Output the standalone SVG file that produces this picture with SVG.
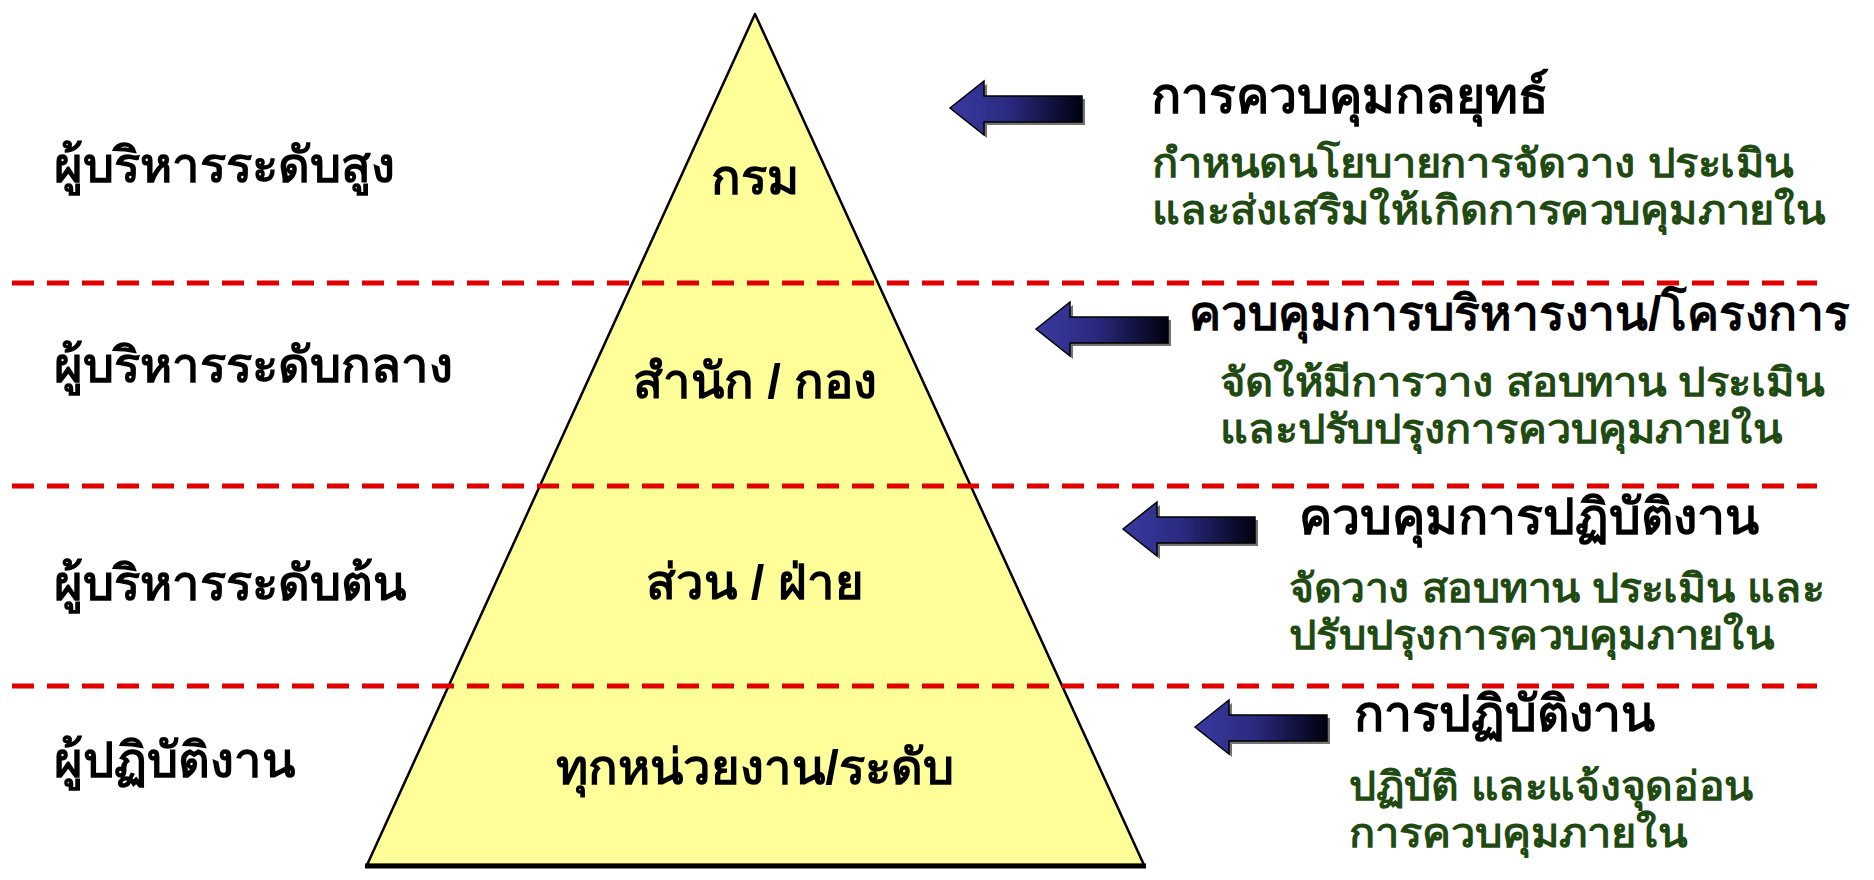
<svg xmlns="http://www.w3.org/2000/svg" width="1874" height="880" viewBox="0 0 1874 880">
<style>
text{font-family:"Liberation Sans","Noto Sans","DejaVu Sans",sans-serif;font-weight:bold}
.lv{font-size:49px;fill:#000}
.tl{font-size:49px;fill:#000;text-anchor:middle}
.hd{font-size:50px;fill:#000}
.ds{font-size:40px;fill:#1f4a12}
.dash{stroke:#e00000;stroke-width:5;stroke-dasharray:22 13;fill:none}
.arr{fill:url(#ag);stroke:#000;stroke-width:1.5}
.sh{fill:#000;opacity:0.55}
</style>
<defs>
<linearGradient id="ag" x1="0" y1="0" x2="1" y2="0">
<stop offset="0" stop-color="#3a3aa0"/>
<stop offset="0.45" stop-color="#2a2a80"/>
<stop offset="1" stop-color="#000010"/>
</linearGradient>
<path id="arrow" d="M0,0 L34,-27 L34,-12 L132,-12 L132,14 L34,14 L34,27 Z"/>
</defs>
<g id="pyramid">
<polygon points="755,14 1144,865 367,865" fill="#ffff99" stroke="#000" stroke-width="2.5" stroke-linejoin="round"/>
<line x1="365" y1="866" x2="1146" y2="866" stroke="#000" stroke-width="5"/>
</g>
<g id="dividers">
<line class="dash" x1="12" y1="283" x2="1817" y2="283"/>
<line class="dash" x1="12" y1="486" x2="1817" y2="486"/>
<line class="dash" x1="12" y1="686" x2="1817" y2="686"/>
</g>
<g id="level-top">
<text class="lv" x="54" y="182">ผู้บริหารระดับสูง</text>
<text class="tl" x="755" y="194">กรม</text>
</g>
<g id="level-middle">
<text class="lv" x="54" y="382">ผู้บริหารระดับกลาง</text>
<text class="tl" x="755" y="398">สำนัก / กอง</text>
</g>
<g id="level-lower">
<text class="lv" x="54" y="600">ผู้บริหารระดับต้น</text>
<text class="tl" x="755" y="599">ส่วน / ฝ่าย</text>
</g>
<g id="level-operator">
<text class="lv" x="54" y="777">ผู้ปฏิบัติงาน</text>
<text class="tl" x="755" y="784">ทุกหน่วยงาน/ระดับ</text>
</g>
<g id="connectors">
<use href="#arrow" class="sh" x="953" y="111"/>
<use href="#arrow" class="arr" x="950" y="108"/>
<use href="#arrow" class="sh" x="1039" y="332"/>
<use href="#arrow" class="arr" x="1036" y="329"/>
<use href="#arrow" class="sh" x="1126" y="532"/>
<use href="#arrow" class="arr" x="1123" y="529"/>
<use href="#arrow" class="sh" x="1198" y="730"/>
<use href="#arrow" class="arr" x="1195" y="727"/>
</g>
<g id="desc-strategic">
<text class="hd" x="1151" y="113">การควบคุมกลยุทธ์</text>
<text class="ds" x="1152" y="177" textLength="641" lengthAdjust="spacingAndGlyphs">กำหนดนโยบายการจัดวาง ประเมิน</text>
<text class="ds" x="1152" y="224" textLength="673" lengthAdjust="spacingAndGlyphs">และส่งเสริมให้เกิดการควบคุมภายใน</text>
</g>
<g id="desc-management">
<text class="hd" x="1189" y="330" style="font-size:48px">ควบคุมการบริหารงาน/โครงการ</text>
<text class="ds" x="1220" y="396" textLength="604" lengthAdjust="spacingAndGlyphs">จัดให้มีการวาง สอบทาน ประเมิน</text>
<text class="ds" x="1220" y="443" textLength="562" lengthAdjust="spacingAndGlyphs">และปรับปรุงการควบคุมภายใน</text>
</g>
<g id="desc-operation">
<text class="hd" x="1299" y="534">ควบคุมการปฏิบัติงาน</text>
<text class="ds" x="1289" y="602" textLength="535" lengthAdjust="spacingAndGlyphs">จัดวาง สอบทาน ประเมิน และ</text>
<text class="ds" x="1289" y="649" textLength="485" lengthAdjust="spacingAndGlyphs">ปรับปรุงการควบคุมภายใน</text>
</g>
<g id="desc-practice">
<text class="hd" x="1354" y="731">การปฏิบัติงาน</text>
<text class="ds" x="1349" y="800" textLength="404" lengthAdjust="spacingAndGlyphs">ปฏิบัติ และแจ้งจุดอ่อน</text>
<text class="ds" x="1349" y="847" textLength="338" lengthAdjust="spacingAndGlyphs">การควบคุมภายใน</text>
</g>
</svg>
